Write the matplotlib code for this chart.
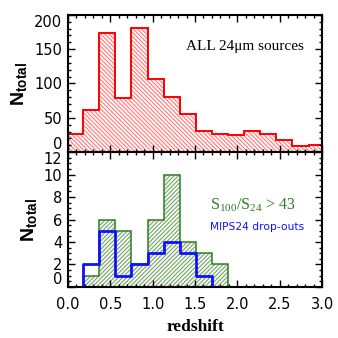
import numpy as np
import matplotlib.pyplot as plt

# bin edges (width ~0.19 in redshift)
edges = np.round(np.arange(-0.01, 3.04, 0.19), 2)
centers = edges[:-1] + 0.095

# all 24um sources, per bin
n_all = [26, 61, 173, 79, 181, 107, 81, 55, 31, 27, 25, 31, 27, 18, 9, 11]

# S100/S24 > 43 sources (bins 2..10)
n_ratio = [1, 6, 5, 2, 6, 10, 4, 3, 2]
# MIPS24 drop-outs, drawn IDL psym=10 style at bin centres
n_drop = [0, 2, 5, 1, 2, 3, 4, 3, 1, 0]

red = '#ff0000'
red_hatch = '#ff8585'
green = '#2f7d24'
green_hatch = '#7dad70'
blue = '#1010ff'

plt.rcParams['font.family'] = 'DejaVu Sans'
plt.rcParams['mathtext.fontset'] = 'custom'
plt.rcParams['mathtext.rm'] = 'Liberation Serif'
plt.rcParams['mathtext.bf'] = 'Liberation Sans:bold'
plt.rcParams['hatch.linewidth'] = 0.9

fig = plt.figure(figsize=(3.38, 3.38), dpi=100)
ax1 = fig.add_axes([0.201, 0.550, 0.752, 0.406])
ax2 = fig.add_axes([0.201, 0.151, 0.752, 0.399])

# top panel
ax1.stairs(n_all, edges, fill=True, facecolor='none', edgecolor=red_hatch,
           hatch='\\' * 8, linewidth=0, baseline=0)
ax1.stairs(n_all, edges, color=red, linewidth=1.4, baseline=0)
ax1.set_xlim(0, 3)
ax1.set_ylim(0, 200)
ax1.set_yticks([0, 50, 100, 150, 200])
ax1.set_yticks(np.arange(0, 201, 10), minor=True)
ax1.set_xticks(np.arange(0, 3.01, 0.5))
ax1.set_xticks(np.arange(0, 3.01, 0.1), minor=True)
ax1.tick_params(labelbottom=False)
ax1.text(0.465, 0.766, 'ALL 24\u03bcm sources', transform=ax1.transAxes,
         family='Liberation Serif', fontsize=11, ha='left', va='center')

# bottom panel
e2 = edges[1:11]
ax2.stairs(n_ratio, e2, fill=True, facecolor='none', edgecolor=green_hatch,
           hatch='/' * 8, linewidth=0, baseline=0)
ax2.stairs(n_ratio, e2, color=green, linewidth=1.1, baseline=0)
ax2.step(centers[:len(n_drop)], n_drop, where='mid', color=blue, linewidth=2)
ax2.set_xlim(0, 3)
ax2.set_ylim(0, 12)
ax2.set_yticks(np.arange(0, 13, 2))
ax2.set_yticks(np.arange(0, 12.1, 0.5), minor=True)
ax2.set_xticks(np.arange(0, 3.01, 0.5))
ax2.set_xticks(np.arange(0, 3.01, 0.1), minor=True)
ax2.set_xticklabels(['%.1f' % v for v in np.arange(0, 3.01, 0.5)])
ax2.set_xlabel('redshift', family='Liberation Serif', fontsize=12.5,
               fontweight='bold', labelpad=5)
ax2.text(0.559, 0.607, 'S$_{100}$/S$_{24}$ > 43', transform=ax2.transAxes,
         family='Liberation Serif', fontsize=11.5, color=green, ha='left', va='center')
ax2.text(0.559, 0.444, 'MIPS24 drop-outs', transform=ax2.transAxes,
         family='DejaVu Sans', fontsize=7.7, color=blue, ha='left', va='center')

for ax in (ax1, ax2):
    ax.set_ylabel(r'$\mathbf{N}_{\mathbf{total}}$', fontsize=14, labelpad=3)
    ax.tick_params(which='both', direction='in', top=True, right=True, width=1)
    ax.tick_params(which='major', length=5, labelsize=10.5, pad=4)
    ax.tick_params(which='minor', length=2.5)
    for s in ax.spines.values():
        s.set_linewidth(1.5)
ax2.tick_params(axis='x', which='major', pad=7)

# shift the labels that meet at the panel edges
ax1.get_yticklabels()[0].set_va('bottom')
ax1.get_yticklabels()[-1].set_va('top')
ax2.get_yticklabels()[-1].set_va('top')
ax2.get_yticklabels()[0].set_va('bottom')

fig.savefig('out.png', dpi=100)
